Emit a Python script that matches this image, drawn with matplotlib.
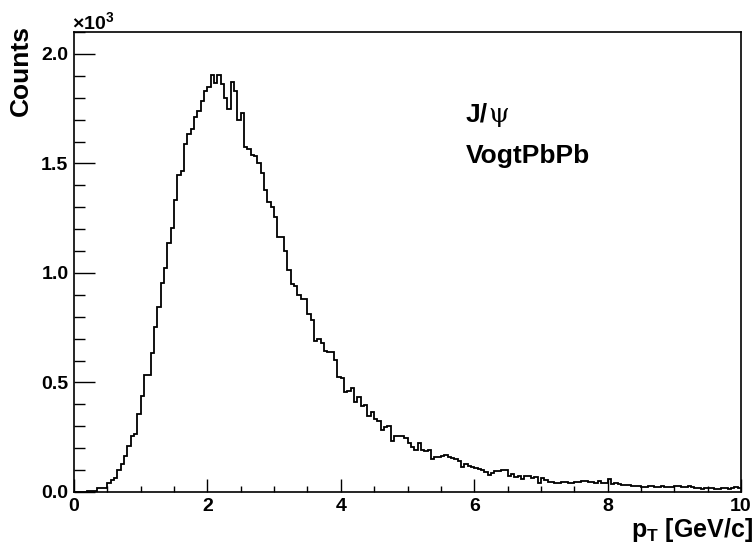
import numpy as np
import matplotlib
matplotlib.use('Agg')
import matplotlib.pyplot as plt
from matplotlib.ticker import MultipleLocator, FuncFormatter

plt.rcParams['font.family'] = ['Liberation Sans', 'DejaVu Sans']
plt.rcParams['font.weight'] = 'bold'
plt.rcParams['mathtext.fontset'] = 'custom'
plt.rcParams['mathtext.rm'] = 'Liberation Sans:bold'
plt.rcParams['mathtext.bf'] = 'Liberation Sans:bold'
plt.rcParams['mathtext.it'] = 'Liberation Sans:bold'

# histogram: 200 bins of 0.05 GeV/c from 0 to 10
x_min, x_max, n_bins = 0.0, 10.0, 200
counts = [
    0, 1, 1, 2, 3, 5, 6, 20, 17, 18,
    43, 53, 63, 100, 128, 164, 210, 257, 265, 357,
    440, 532, 536, 636, 752, 843, 953, 1023, 1135, 1204,
    1332, 1447, 1467, 1589, 1635, 1659, 1711, 1741, 1784, 1830,
    1851, 1904, 1867, 1904, 1864, 1797, 1749, 1870, 1830, 1699,
    1730, 1575, 1566, 1539, 1534, 1504, 1458, 1377, 1324, 1302,
    1256, 1165, 1162, 1100, 1015, 948, 940, 899, 883, 881,
    812, 785, 690, 698, 680, 643, 639, 638, 603, 523,
    519, 457, 460, 475, 412, 435, 392, 396, 345, 367,
    334, 322, 284, 296, 300, 235, 256, 256, 255, 246,
    222, 205, 190, 222, 193, 187, 192, 152, 161, 161,
    166, 168, 160, 157, 149, 143, 116, 128, 119, 113,
    108, 106, 100, 93, 78, 88, 96, 98, 100, 100,
    73, 81, 67, 73, 58, 75, 73, 65, 70, 43,
    62, 55, 47, 47, 43, 43, 47, 45, 40, 42,
    46, 44, 50, 48, 47, 45, 43, 52, 40, 40,
    58, 37, 40, 38, 30, 31, 30, 29, 27, 26,
    21, 23, 27, 26, 21, 22, 27, 25, 21, 22,
    29, 27, 21, 23, 27, 25, 17, 18, 15, 16,
    17, 18, 12, 13, 18, 17, 15, 16, 21, 20,
]
y_max = 2100

fig = plt.figure(figsize=(7.55, 5.44), dpi=100)
ax = fig.add_axes([74 / 755, 1 - 492 / 544, (741 - 74) / 755, (492 - 32) / 544])

edges = np.linspace(x_min, x_max, n_bins + 1)
ax.stairs(counts, edges, color='black', lw=1.3, baseline=None)

ax.set_xlim(x_min, x_max)
ax.set_ylim(0, y_max)

ax.xaxis.set_major_locator(MultipleLocator(2))
ax.xaxis.set_minor_locator(MultipleLocator(0.5))
ax.yaxis.set_major_locator(MultipleLocator(500))
ax.yaxis.set_minor_locator(MultipleLocator(100))
ax.xaxis.set_major_formatter(FuncFormatter(lambda v, p: f'{v:g}'))
ax.yaxis.set_major_formatter(FuncFormatter(lambda v, p: f'{v / 1000:.1f}'))

ax.tick_params(axis='both', which='both', direction='in', top=False, right=False,
               labelsize=14, width=1.0, colors='black')
ax.tick_params(axis='x', which='major', length=9.5, pad=4)
ax.tick_params(axis='x', which='minor', length=4.5)
ax.tick_params(axis='y', which='major', length=15, pad=4)
ax.tick_params(axis='y', which='minor', length=8)
for lab in ax.get_xticklabels() + ax.get_yticklabels():
    lab.set_fontweight('bold')
for s in ax.spines.values():
    s.set_linewidth(1.2)

# axis titles, ROOT style (aligned to the axis ends)
fig.text(753 / 755, 1 - 537 / 544, r'$\mathbf{p_{T}}$ [GeV/c]', ha='right', va='baseline',
         fontsize=18, fontweight='bold')
fig.text(21 / 755, 1 - 25 / 544, 'Counts', rotation=90, ha='center', va='top',
         fontsize=19, fontweight='bold')
fig.text(72 / 755, 1 - 29 / 544, r'$\times$10$^{3}$', ha='left', va='baseline',
         fontsize=14, fontweight='bold')

# labels inside the frame
t1 = fig.text(466 / 755, 1 - 121.7 / 544, 'J/', ha='left', va='baseline',
              fontsize=19, fontweight='bold')
ax.annotate('\u03c8', xy=(1, 0), xycoords=t1, ha='left', va='bottom',
            fontsize=19, fontweight='normal', family='DejaVu Serif')
fig.text(466 / 755, 1 - 162.7 / 544, 'VogtPbPb', ha='left', va='baseline',
         fontsize=19, fontweight='bold')

fig.savefig('out.png', dpi=100, facecolor='white')
